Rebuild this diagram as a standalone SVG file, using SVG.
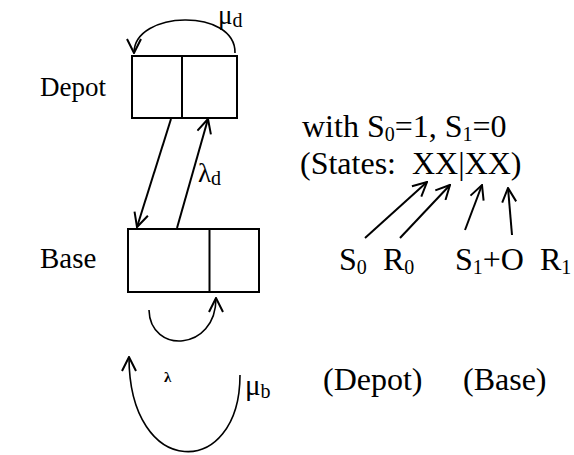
<svg xmlns="http://www.w3.org/2000/svg" width="574" height="455" viewBox="0 0 574 455">
<style>
text{font-family:'Liberation Serif','Times New Roman',serif;font-size:32px;fill:#000}
.sub{font-size:20px}
.lbl{font-size:27px}
.box{fill:#fff;stroke:#000;stroke-width:2}
.ln{fill:none;stroke:#000;stroke-width:2}
.arc{fill:none;stroke:#000;stroke-width:1.6}
</style>
<defs>
<marker id="ah" viewBox="0 0 16 16" refX="15" refY="8" markerWidth="16" markerHeight="16" markerUnits="userSpaceOnUse" orient="auto">
<path d="M1,1 L15,8 L1,15" fill="none" stroke="#000" stroke-width="2"/>
</marker>
</defs>
<g id="depot">
<rect class="box" x="132" y="56" width="105" height="62"/>
<line class="ln" x1="182" y1="56" x2="182" y2="118"/>
<text class="lbl" x="40" y="96">Depot</text>
</g>
<g id="base">
<rect class="box" x="128" y="229" width="131" height="63"/>
<line class="ln" x1="209.5" y1="229" x2="209.5" y2="292" stroke-width="2.5"/>
<text x="40" y="268" style="font-size:29px">Base</text>
</g>
<g id="connectors">
<path class="arc" d="M235,53 C236,8 134,10 134,53" marker-end="url(#ah)"/>
<line class="ln" x1="171" y1="119" x2="137" y2="227" marker-end="url(#ah)"/>
<line class="ln" x1="177" y1="228" x2="208" y2="119" marker-end="url(#ah)"/>
<path class="arc" d="M149,310 C150,354 216,352 216,298" marker-end="url(#ah)"/>
<path class="arc" d="M240,375 C240,480 129,480 129,357" marker-end="url(#ah)"/>
<line class="ln" x1="365" y1="238" x2="427" y2="182" marker-end="url(#ah)"/>
<line class="ln" x1="400" y1="238" x2="450" y2="185" marker-end="url(#ah)"/>
<line class="ln" x1="465" y1="230" x2="482" y2="185" marker-end="url(#ah)"/>
<line class="ln" x1="512" y1="235" x2="508" y2="188" marker-end="url(#ah)"/>
</g>
<g id="labels">
<text class="lbl" x="218" y="24">μ<tspan class="sub" dy="3">d</tspan></text>
<text class="lbl" x="198" y="182">λ<tspan class="sub" dy="3">d</tspan></text>
<text x="164" y="382" style="font-size:15px;font-weight:bold">λ</text>
<text x="245" y="395" style="font-size:29px">μ<tspan class="sub" dy="3">b</tspan></text>
<text x="302" y="137">with S<tspan class="sub" dy="4">0</tspan><tspan dy="-4">=1, S</tspan><tspan class="sub" dy="4">1</tspan><tspan dy="-4">=0</tspan></text>
<text x="300" y="174">(States:<tspan x="412">XX|XX)</tspan></text>
<text x="339" y="270">S<tspan class="sub" dy="4">0</tspan></text>
<text x="383" y="270">R<tspan class="sub" dy="4">0</tspan></text>
<text x="455" y="270">S<tspan class="sub" dy="4">1</tspan><tspan dy="-4">+O</tspan></text>
<text x="540" y="270">R<tspan class="sub" dy="4">1</tspan></text>
<text x="323" y="390">(Depot)</text>
<text x="463" y="390">(Base)</text>
</g>
</svg>
